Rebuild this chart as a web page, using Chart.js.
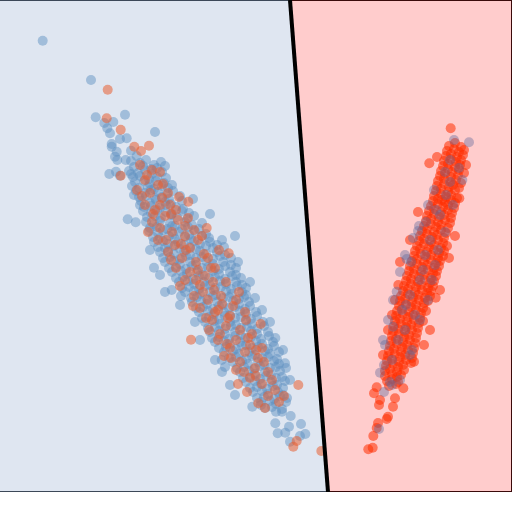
<!DOCTYPE html>
<html><head><meta charset="utf-8">
<script src="https://cdn.jsdelivr.net/npm/chart.js@4/dist/chart.umd.min.js"></script>
<style>html,body{margin:0;padding:0;background:#fff}canvas{display:block}</style>
</head><body>
<canvas id="c" width="512" height="512"></canvas>
<script>
// axis ranges (y grows downward in this picture)
const xRange = [0, 512];
const yRange = [0, 492];
// decision boundary end points
const boundary = [[290, 0], [328, 492]];
// region polygons
const leftRegion = [[0, 0], [290, 0], [328, 492], [0, 492]];
const rightRegion = [[290, 0], [512, 0], [512, 492], [328, 492]];

// left cluster, class A (blue)
const leftBlue = [[42.7,40.7],[91,80],[95.7,117.3],[125,114.7],[104.3,123],[107.3,128.3],[113.3,122],[110,133.3],[155,132],[120,139],[126.7,138.3],[111.7,144],[111.7,146.7],[116.7,151.7],[115,156.7],[117.3,160],[131,150.7],[136.7,156],[125.7,160],[109.3,174],[116,171.7],[120,175.7],[127.7,219.3],[135.7,222.3],[154,267.7],[171.7,290],[275.3,338],[285,363.3],[286,368],[252.3,406.7],[261,405],[275.3,423.3],[289,426.7],[301,424],[277.7,433.3],[285.3,432.7],[290,441.7],[300,436],[305.3,434],[290.7,416],[282,411.7],[276,411.7],
[150,250],[160,275],[165,292],[180,305],[195,322],[200,340],[215,360],[222,372],[230,385],[235,395],[222,240],[238,262],[250,282],[255,298],[262,310],[270,322],[283,350],[290,380],[235,236],[210,214],[193,199],[221.7,360],[225,367],
[131,161],[140,163],[146,160],[154,165],[161,162],[134,167],[143,166],[151,169],[157,168],[165,166],
[129,171],[138,173],[145,170],[152,174],[162,172],[133,177],[140,176],[149,179],[157,177],[166,178],[131,174],
[135,182],[144,181],[150,184],[156,181],[164,183],[172,185],[132,186],[139,188],[148,187],[154,189],[162,186],[168,188],
[136,191],[145,193],[151,190],[158,192],[167,194],[173,191],[139,197],[146,196],[155,198],[162,197],[169,199],[180,196],[134,195],
[141,201],[150,203],[156,200],[165,202],[171,204],[182,201],[144,207],[151,206],[160,208],[166,205],[176,207],[183,209],[140,205],
[143,211],[151,213],[157,210],[166,212],[172,214],[182,211],[189,213],[147,217],[155,216],[161,218],[171,215],[177,217],[187,219],[194,216],
[146,222],[154,224],[160,221],[170,223],[175,226],[185,222],[192,225],[202,223],[150,228],[157,227],[167,229],[172,226],[182,229],[188,227],[199,229],
[149,231],[158,233],[163,230],[173,234],[179,232],[189,235],[195,231],[206,234],[153,237],[160,238],[169,236],[175,239],[185,237],[191,239],[202,236],[209,238],
[154,242],[163,241],[168,244],[178,242],[184,245],[194,241],[200,244],[210,242],[217,245],[158,247],[165,248],[174,246],[180,249],[190,247],[196,249],[206,246],[213,248],[224,247],
[160,252],[168,251],[174,254],[184,252],[190,255],[200,251],[206,254],[217,252],[225,255],[163,258],[170,257],[180,259],[186,256],[196,258],[202,257],[213,259],[220,256],[231,258],
[165,262],[174,261],[180,264],[190,262],[196,265],[206,261],[213,264],[223,262],[231,265],[169,268],[176,267],[186,269],[192,266],[202,268],[208,267],[219,269],[225,266],[236,268],
[172,272],[181,271],[187,274],[197,272],[203,275],[213,271],[219,274],[230,272],[236,275],[176,278],[183,277],[193,279],[199,276],[209,278],[215,277],[225,279],[232,276],[241,278],
[179,282],[188,281],[194,284],[204,282],[210,285],[220,281],[226,284],[236,282],[242,285],[182,288],[189,287],[199,289],[205,286],[215,288],[221,287],[231,289],[237,286],[246,288],
[185,292],[194,291],[200,294],[210,292],[216,295],[226,291],[232,294],[242,292],[246,295],[181,296],[191,298],[197,297],[207,299],[213,296],[223,298],[229,297],[239,299],[244,297],
[192,302],[201,301],[207,304],[217,302],[223,305],[233,301],[239,304],[249,302],[196,308],[203,307],[213,309],[219,306],[229,308],[235,307],[245,309],[250,306],
[199,312],[208,311],[214,314],[224,312],[230,315],[240,311],[246,314],[256,312],[202,318],[209,317],[219,319],[225,316],[235,318],[241,317],[251,319],[257,316],
[205,322],[214,321],[220,324],[230,322],[236,325],[246,321],[252,324],[263,322],[208,328],[215,327],[225,329],[231,326],[241,328],[247,327],[257,329],[264,326],
[210,332],[219,331],[225,334],[235,332],[241,335],[251,331],[257,334],[268,332],[212,338],[219,337],[229,339],[235,336],[245,338],[251,337],[261,339],[269,336],
[215,342],[224,341],[230,344],[240,342],[246,345],[256,341],[262,344],[273,342],[219,348],[226,347],[236,349],[242,346],[252,348],[258,347],[268,349],[274,346],
[224,352],[233,351],[239,354],[249,352],[255,355],[265,351],[270,354],[279,352],[229,358],[236,357],[246,359],[252,356],[262,358],[268,357],[277,359],
[233,362],[242,361],[248,364],[258,362],[264,365],[274,361],[279,364],[237,368],[244,367],[254,369],[260,366],[270,368],[276,367],
[240,372],[249,371],[255,374],[265,372],[271,375],[280,371],[243,378],[250,377],[260,379],[266,376],[276,378],[282,377],
[246,382],[255,381],[261,384],[271,382],[277,385],[285,381],[250,388],[257,387],[267,389],[273,386],[283,388],
[253,392],[262,391],[268,394],[278,392],[283,395],[257,398],[264,397],[274,399],[280,396],[287,398],
[261,402],[270,401],[276,404],[286,402],[265,408],[272,407],[282,409]];

// left cluster, class B (orange)
const leftOrange = [[107.7,89.7],[106.7,118.3],[120.7,129.7],[134.3,146.7],[149,145.7],[141,151],[120.7,175.7],[188.3,201.7],[206.7,228],[228.7,253.3],[191,339.7],[260.7,324],[298.3,385],[258.3,403.3],[293.3,446.7],[296.7,441],[321.3,451],
[140,165],[152,170],[145,180],[160,172],[137,190],[150,193],[162,198],[145,205],[155,210],[170,205],[165,216],[152,222],[178,220],[160,228],[172,232],[185,236],[158,240],[175,245],[190,248],[168,252],[182,258],[196,262],[176,268],[190,272],[205,276],[185,280],[200,285],[214,290],[194,296],[208,300],[222,304],[200,308],[215,312],[230,316],[212,320],[226,326],[240,330],[220,334],[236,340],[250,345],[230,348],[245,352],[258,358],[240,362],[255,368],[268,372],[250,378],[262,384],[275,390],[268,396],
[163,184],[179,197],[171,214],[194,230],[181,244],[204,254],[198,270],[213,282],[221,296],[206,318],[233,306],[218,340],[246,320],[231,358],[262,348],[244,372],
[147,175],[158,185],[142,196],[168,193],[153,214],[176,210],[148,232],[185,226],[166,240],[198,240],[171,260],[208,258],[186,250],[215,268],[180,286],[226,282],[203,292],[193,306],[236,300],[218,310],[245,312],[209,330],[228,318],[252,334],[224,356],[248,338],[236,370],[264,362],[247,392],[272,380],[256,376],[279,402],[160,205],[188,218],[202,236],[219,250],[196,280],[211,268],[239,292],[227,344],[256,350],[238,384],[265,408],[284,396]];

// right cluster, class B (red)
const rightRed = [[450.7,128.3],[429.3,163.3],[459.3,198.3],[398.3,285],[435.7,297.7],[414,361.7],[376.7,387.3],[374,393.3],[380,400],[379,405],[388,416.7],[386.7,419],[378,423],[376.7,428],[373.3,436],[368.3,449.3],[372.7,447.7],[393,406.7],[403.3,388.3],[395,398.3],
[418,212],[455,236],[400,262],[449,258],[395,300],[440,290],[388,330],[430,330],[383,355],[424,345],[442,200],[466,165],[437,157],[410,240],[392,315],
[449,146],[455,143],[461,147],[447,151],[454,149],[459,152],[464,150],[446,156],[451,154],[457,157],[463,155],
[444,161],[451,159],[456,162],[461,160],[443,166],[448,164],[455,167],[460,165],[441,171],[448,169],[452,172],[459,170],[464,173],
[440,176],[445,174],[451,177],[458,175],[438,181],[444,179],[451,182],[456,180],[461,183],[437,186],[444,184],[449,187],[453,185],[459,188],
[436,191],[441,189],[448,192],[455,190],[434,196],[441,194],[446,197],[451,195],[457,198],[433,201],[438,199],[445,202],[451,200],[455,203],
[431,206],[438,204],[443,207],[448,205],[454,208],[429,211],[434,209],[441,212],[448,210],[452,213],[427,216],[434,214],[439,217],[444,215],[451,218],
[426,221],[431,219],[438,222],[445,220],[450,223],[424,226],[431,224],[436,227],[441,225],[448,228],[422,231],[427,229],[434,232],[441,230],[446,233],
[420,236],[427,234],[432,237],[437,235],[444,238],[419,241],[424,239],[431,242],[438,240],[443,243],[417,246],[424,244],[429,247],[434,245],[441,248],[447,246],
[415,251],[420,249],[427,252],[434,250],[439,253],[444,251],[414,256],[421,254],[426,257],[431,255],[438,258],[443,256],
[412,261],[417,259],[424,262],[431,260],[436,263],[440,261],[410,266],[417,264],[422,267],[427,265],[434,268],[439,266],
[409,271],[414,269],[421,272],[428,270],[433,273],[437,271],[407,276],[414,274],[419,277],[424,275],[431,278],[436,276],
[406,281],[411,279],[418,282],[425,280],[430,283],[434,281],[404,286],[411,284],[416,287],[421,285],[428,288],[433,286],
[403,291],[408,289],[415,292],[422,290],[427,293],[431,291],[401,296],[408,294],[413,297],[418,295],[425,298],[430,296],
[400,301],[405,299],[412,302],[419,300],[424,303],[428,301],[399,306],[406,304],[411,307],[416,305],[423,308],
[397,311],[402,309],[409,312],[416,310],[421,313],[426,311],[396,316],[403,314],[408,317],[413,315],[420,318],
[395,321],[400,319],[407,322],[414,320],[419,323],[423,321],[394,326],[401,324],[406,327],[411,325],[418,328],
[393,331],[398,329],[405,332],[412,330],[417,333],[392,336],[399,334],[404,337],[409,335],[416,338],
[391,341],[396,339],[403,342],[410,340],[415,343],[390,346],[397,344],[402,347],[407,345],[414,348],
[389,351],[394,349],[401,352],[408,350],[413,353],[388,356],[395,354],[400,357],[405,355],[412,358],
[387,361],[392,359],[399,362],[406,360],[411,363],[386,366],[393,364],[398,367],[403,365],
[385,371],[390,369],[397,372],[404,370],[385,376],[392,374],[397,377],[401,375],[387,381],[392,379],[398,382],[389,386],[396,384]];

// right cluster, class A (blue)
const rightBlue = [[454,140],[469,142.3],[462.3,180],[450,182],[380,372.7],[385,345],[396.7,291.7],[379,429],[393,326.7],[410,355],[400,380],[418,231],[406.7,259],
[450,160],[446,195],[453,205],[440,215],[445,232],[430,240],[425,255],[435,265],[420,280],[438,250],[410,295],[428,300],[415,315],[405,330],[420,320],[398,340],[412,350],[392,360],[406,305],[432,280],[423,270],[436,210],[445,172],[411,262],[390,382],[384,392],[459,168],[402,310],[426,222],
[405,255],[400,272],[393,300],[388,320],[383,340],[384,365],[392,385],[413,238],[419,226],[428,205],[434,190]];

function pts(a){return a.map(([x,y])=>({x,y}));}

const ptStyle = {type:'scatter', pointRadius:5, pointHoverRadius:5, pointBorderWidth:0, borderWidth:0};

new Chart(document.getElementById('c'), {
  type:'scatter',
  data:{datasets:[
    {type:'line', data:pts(boundary), borderColor:'#000', borderWidth:4, pointRadius:0, fill:false, order:0},
    Object.assign({data:pts(rightBlue), backgroundColor:'rgba(95,105,155,0.4)', order:1}, ptStyle),
    Object.assign({data:pts(rightRed), backgroundColor:'rgba(255,45,0,0.55)', order:2}, ptStyle),
    Object.assign({data:pts(leftOrange), backgroundColor:'rgba(232,95,50,0.55)', order:3}, ptStyle),
    Object.assign({data:pts(leftBlue), backgroundColor:'rgba(95,145,192,0.48)', order:4}, ptStyle),
    {type:'line', data:pts(rightRegion), backgroundColor:'#ffcccc', borderColor:'#3a0a0a', borderWidth:2, pointRadius:0, fill:'shape', tension:0, order:5},
    {type:'line', data:pts(leftRegion), backgroundColor:'#dfe6f1', borderColor:'#3c4858', borderWidth:2, pointRadius:0, fill:'shape', tension:0, order:6}
  ]},
  options:{
    responsive:false, animation:false, devicePixelRatio:1,
    layout:{autoPadding:false, padding:{left:0,right:0,top:0,bottom:20}},
    plugins:{legend:{display:false}, tooltip:{enabled:false}},
    scales:{
      x:{type:'linear', min:xRange[0], max:xRange[1], display:false},
      y:{type:'linear', min:yRange[0], max:yRange[1], reverse:true, display:false}
    }
  }
});
</script>
</body></html>
